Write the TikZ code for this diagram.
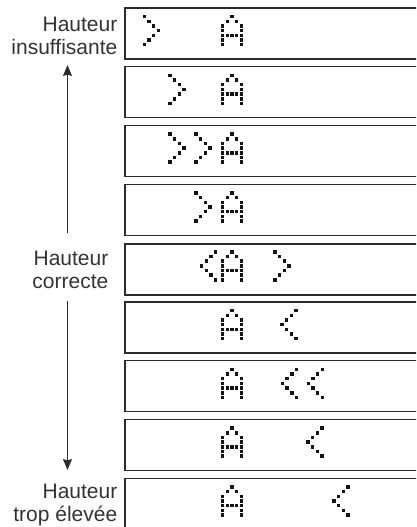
\documentclass[tikz,border=0pt]{standalone}
\usepackage{fontspec}
\setmainfont{Liberation Sans}
\usetikzlibrary{arrows.meta}
\definecolor{inkc}{HTML}{2B2B2B}
\definecolor{dotc}{HTML}{141414}
\definecolor{txtc}{HTML}{333333}
\tikzset{
  disp/.style  ={draw=inkc,line width=1.3pt,fill=white,anchor=north west,
                 minimum width=310pt,minimum height=51pt,inner sep=0pt},
  dispok/.style={disp,line width=2pt},
  lbl/.style   ={align=right,anchor=north east,inner sep=0pt,text=txtc,
                 font=\fontsize{21}{23.3}\selectfont},
  arr/.style   ={-{Stealth[length=11pt,width=9pt,inset=1.5pt]},line width=1pt,inkc},
  pix/.style   ={fill=dotc},
}
% dot matrix glyphs: x of left column, y of top row
\newcommand{\dotp}{4.67}
\newcommand{\pixat}[2]{\fill[pix] ({#1-1.75},{#2-1.75}) rectangle ++(3.5,3.5);}
\newcommand{\glyph}[3]{\foreach \c/\r in {#1} {\pixat{#2+\c*\dotp}{#3+\r*\dotp}}}
\newcommand{\lcdA}[2]{\glyph{2/0,1/1,3/1,0/2,4/2,0/3,4/3,0/4,1/4,2/4,3/4,4/4,0/5,4/5,0/6,4/6}{#1}{#2}}
\newcommand{\lcdGt}[2]{\glyph{0/0,1/1,2/2,3/3,2/4,1/5,0/6}{#1}{#2}}
\newcommand{\lcdLt}[2]{\glyph{3/0,2/1,1/2,0/3,1/4,2/5,3/6}{#1}{#2}}

\begin{document}
\begin{tikzpicture}[x=1pt,y=-1pt]
    \useasboundingbox (0,0) rectangle (416,527);
    \clip (0,0) rectangle (416,527);

    % displays
    \node[disp]   (d1) at (124.3,  7.3) {};
    \node[disp]   (d2) at (124.3, 66.1) {};
    \node[disp]   (d3) at (124.3,124.9) {};
    \node[disp]   (d4) at (124.3,183.7) {};
    \node[dispok] (d5) at (124.3,242.5) {};
    \node[disp]   (d6) at (124.3,301.3) {};
    \node[disp]   (d7) at (124.3,360.1) {};
    \node[disp]   (d8) at (124.3,418.9) {};
    \node[disp]   (d9) at (124.3,477.7) {};

    % dot matrix contents
    \lcdGt{144.3}{16.6} \lcdA{222.7}{16.6}
    \lcdGt{170}{75.4} \lcdA{222.7}{75.4}
    \lcdGt{170}{134.2} \lcdGt{196}{134.2} \lcdA{222.7}{134.2}
    \lcdGt{196}{193} \lcdA{222.7}{193}
    \lcdLt{201.7}{251.8} \lcdA{222.7}{251.8} \lcdGt{275}{251.8}
    \lcdA{222.7}{310.6} \lcdLt{282}{310.6}
    \lcdA{222.7}{369.4} \lcdLt{282.5}{369.4} \lcdLt{308.3}{369.4}
    \lcdA{222.7}{428.2} \lcdLt{308}{428.2}
    \lcdA{222.7}{487} \lcdLt{334}{487}

    % side labels
    \node[lbl] (lbltop) at (117.5, 16.7) {Hauteur\\insuffisante};
    \node[lbl] (lblmid) at (108.5,251)   {Hauteur\\correcte};
    \node[lbl] (lblbot) at (117.5,484)   {Hauteur\\trop élevée};

    % arrows
    \coordinate (upbot) at (67.5,233);
    \coordinate (uptop) at (67.5,65);
    \coordinate (dntop) at (67.5,301);
    \coordinate (dnbot) at (67.5,470);
    \draw[arr] (upbot) -- (uptop);
    \draw[arr] (dntop) -- (dnbot);
\end{tikzpicture}
\end{document}
